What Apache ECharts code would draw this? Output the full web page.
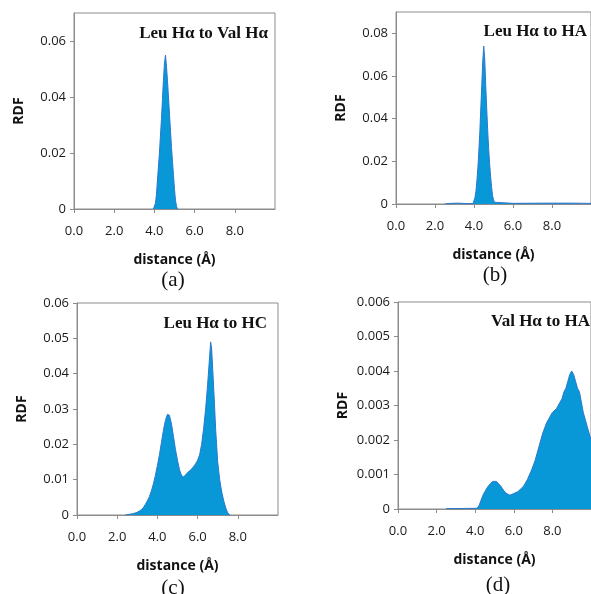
<!DOCTYPE html>
<html>
<head>
<meta charset="utf-8">
<script src="https://cdn.jsdelivr.net/npm/echarts@6/dist/echarts.min.js"></script>
<style>
  html, body { margin: 0; padding: 0; background: #fff; }
  #main { width: 591px; height: 594px; }
</style>
</head>
<body>
<div id="main"></div>
<script>
// panel titles and captions
var titles = ['Leu H\u03b1 to Val H\u03b1', 'Leu H\u03b1 to HA', 'Leu H\u03b1 to HC', 'Val H\u03b1 to HA'];
var captions = ['(a)', '(b)', '(c)', '(d)'];

// (a) Leu Ha to Val Ha
var distA = [3.95, 4.0, 4.05, 4.1, 4.15, 4.2, 4.25, 4.3, 4.35, 4.4, 4.45, 4.5, 4.55, 4.6, 4.65, 4.7, 4.75, 4.8, 4.85, 4.9, 4.95, 5.0, 5.05, 5.1, 5.15];
var rdfA  = [0, 0.0005, 0.002, 0.005, 0.010, 0.015, 0.020, 0.026, 0.032, 0.039, 0.046, 0.052, 0.055, 0.051, 0.046, 0.040, 0.034, 0.028, 0.022, 0.017, 0.012, 0.007, 0.003, 0.001, 0];

// (b) Leu Ha to HA
var distB = [2.5, 2.8, 3.2, 3.6, 3.95, 4.0, 4.05, 4.1, 4.15, 4.2, 4.25, 4.3, 4.35, 4.4, 4.45, 4.5, 4.55, 4.6, 4.65, 4.7, 4.75, 4.8, 4.85, 4.9, 4.95, 5.0, 5.05, 5.1, 6.0, 7.5, 9.0, 10.0];
var rdfB  = [0, 0.0003, 0.0004, 0.0002, 0.0002, 0.001, 0.003, 0.006, 0.011, 0.017, 0.025, 0.034, 0.045, 0.056, 0.067, 0.074, 0.068, 0.056, 0.045, 0.035, 0.026, 0.019, 0.013, 0.008, 0.004, 0.002, 0.0008, 0.0003, 0.0003, 0.0004, 0.0004, 0.0003];

// (c) Leu Ha to HC
var distC = [2.4, 2.5, 2.6, 2.7, 2.8, 2.9, 3.0, 3.1, 3.2, 3.3, 3.4, 3.5, 3.6, 3.7, 3.8, 3.9, 4.0, 4.1, 4.2, 4.3, 4.4, 4.5, 4.55, 4.6, 4.7, 4.8, 4.9, 5.0, 5.1, 5.2, 5.3, 5.4, 5.5, 5.6, 5.7, 5.8, 5.9, 6.0, 6.1, 6.2, 6.3, 6.4, 6.5, 6.6, 6.65, 6.7, 6.8, 6.9, 7.0, 7.1, 7.2, 7.3, 7.4, 7.5, 7.6];
var rdfC  = [0, 0.0001, 0.0002, 0.0003, 0.0004, 0.0006, 0.0008, 0.0011, 0.0015, 0.0021, 0.0030, 0.0040, 0.0052, 0.0068, 0.0088, 0.0112, 0.0140, 0.0170, 0.0205, 0.0240, 0.0268, 0.0285, 0.0290, 0.0282, 0.0258, 0.0222, 0.0185, 0.0155, 0.0128, 0.0112, 0.0108, 0.0113, 0.0120, 0.0125, 0.0130, 0.0137, 0.0145, 0.0155, 0.0170, 0.0200, 0.0245, 0.0300, 0.0370, 0.0450, 0.0490, 0.0470, 0.0360, 0.0240, 0.0150, 0.0100, 0.0065, 0.0040, 0.0020, 0.0006, 0];

// (d) Val Ha to HA
var distD = [2.5, 4.1, 4.2, 4.3, 4.4, 4.5, 4.6, 4.7, 4.8, 4.9, 5.0, 5.1, 5.2, 5.3, 5.4, 5.5, 5.6, 5.7, 5.8, 5.9, 6.0, 6.1, 6.2, 6.3, 6.4, 6.5, 6.6, 6.7, 6.8, 6.9, 7.0, 7.1, 7.2, 7.3, 7.4, 7.5, 7.6, 7.7, 7.8, 7.9, 8.0, 8.1, 8.2, 8.3, 8.4, 8.5, 8.6, 8.7, 8.8, 8.9, 9.0, 9.1, 9.2, 9.3, 9.4, 9.5, 9.6, 9.8, 10.0];
var rdfD  = [0.00001, 0.00002, 0.0001, 0.00025, 0.0004, 0.0005, 0.0006, 0.00068, 0.00074, 0.0008, 0.00083, 0.0008, 0.00074, 0.00068, 0.0006, 0.00052, 0.00046, 0.00042, 0.0004, 0.00042, 0.00045, 0.00048, 0.0005, 0.00055, 0.0006, 0.00066, 0.00075, 0.00085, 0.00098, 0.0011, 0.00125, 0.0014, 0.0016, 0.0018, 0.002, 0.0022, 0.00235, 0.0025, 0.0026, 0.0027, 0.0028, 0.0028, 0.0029, 0.003, 0.0031, 0.0032, 0.0034, 0.0035, 0.0037, 0.0039, 0.004, 0.0039, 0.0037, 0.0035, 0.0034, 0.0031, 0.0028, 0.0024, 0.002];

// y axis ranges
var yMax = [0.07, 0.09, 0.06, 0.006];
var yStep = [0.02, 0.02, 0.01, 0.001];
var yShowTop = [false, false, true, true];

var dists = [distA, distB, distC, distD];
var rdfs = [rdfA, rdfB, rdfC, rdfD];

// plot area boxes (left, top, width, height)
var boxes = [
    [74, 13, 201, 196],
    [396, 12, 198, 192],
    [77, 303, 201, 212],
    [398, 302, 201, 207]
];
var titlePos = [[268, 34], [587, 32], [267, 324], [590, 322]];
var capPos = [[173, 280], [495, 275], [173, 588], [498, 585]];

var axisGray = '#8c8c8c';
var labelFont = "'Open Sans', 'Noto Sans', sans-serif";

var grids = [], xAxes = [], yAxes = [], series = [], graphics = [];
for (var i = 0; i < 4; i++) {
    var b = boxes[i];
    grids.push({
        left: b[0], top: b[1], width: b[2], height: b[3],
        show: true, borderColor: axisGray, borderWidth: 1, backgroundColor: 'transparent'
    });
    xAxes.push({
        gridIndex: i, type: 'value', min: 0, max: 10, interval: 2,
        name: 'distance (\u00c5)', nameLocation: 'middle', nameGap: 44,
        nameTextStyle: {fontFamily: labelFont, fontWeight: 'bold', fontSize: 14, color: '#111'},
        axisLine: {show: true, lineStyle: {color: axisGray}},
        axisTick: {show: true, length: 4, lineStyle: {color: axisGray}},
        axisLabel: {
            showMaxLabel: false, margin: 16, fontFamily: labelFont, fontSize: 13, color: '#1a1a1a',
            formatter: function (v) { return v.toFixed(1); }
        },
        splitLine: {show: false}
    });
    yAxes.push({
        gridIndex: i, type: 'value', min: 0, max: yMax[i], interval: yStep[i],
        name: 'RDF', nameLocation: 'middle', nameGap: 48, nameRotate: 90,
        nameTextStyle: {fontFamily: labelFont, fontWeight: 'bold', fontSize: 14, color: '#111'},
        axisLine: {show: true, lineStyle: {color: axisGray}},
        axisTick: {show: true, length: 4, lineStyle: {color: axisGray}},
        axisLabel: {
            showMaxLabel: yShowTop[i], margin: 8, fontFamily: labelFont, fontSize: 13, color: '#1a1a1a',
            formatter: function (v) { return v === 0 ? '0' : String(+v.toFixed(4)); }
        },
        splitLine: {show: false}
    });
    var pts = dists[i].map(function (d, k) { return [d, rdfs[i][k]]; });
    series.push({
        type: 'line', xAxisIndex: i, yAxisIndex: i, data: pts,
        showSymbol: false, silent: true, animation: false,
        lineStyle: {color: '#2c78cf', width: 1},
        areaStyle: {color: '#0897d7', opacity: 1}
    });
    graphics.push({
        type: 'text', x: titlePos[i][0], y: titlePos[i][1],
        style: {
            text: titles[i], textAlign: 'right', textVerticalAlign: 'middle',
            font: "bold 17px 'Liberation Serif', 'Times New Roman', serif", fill: '#111'
        }
    });
    graphics.push({
        type: 'text', x: capPos[i][0], y: capPos[i][1],
        style: {
            text: captions[i], textAlign: 'center', textVerticalAlign: 'middle',
            font: "21px 'Liberation Serif', 'Times New Roman', serif", fill: '#111'
        }
    });
}

var myChart = echarts.init(document.getElementById('main'));
myChart.setOption({
    animation: false,
    grid: grids,
    xAxis: xAxes,
    yAxis: yAxes,
    series: series,
    graphic: graphics
});
</script>
</body>
</html>
